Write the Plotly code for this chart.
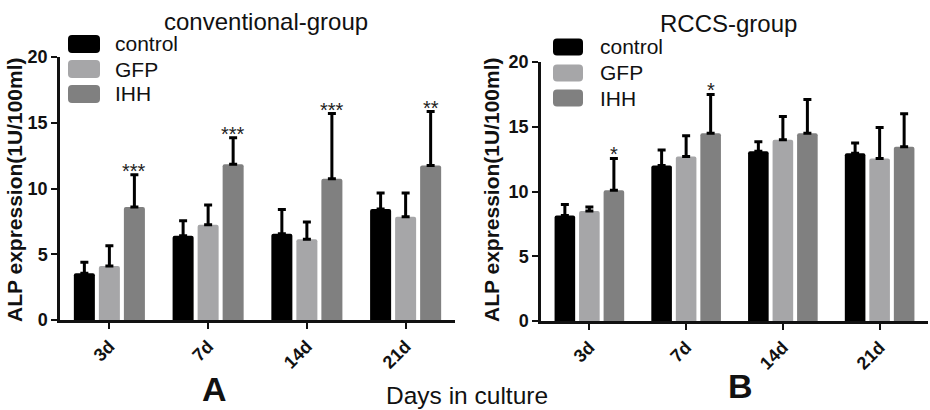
import plotly.graph_objects as go

days = ["3d", "7d", "14d", "21d"]
series_names = ["control", "GFP", "IHH"]
colors = ["#000000", "#a6a6a8", "#808080"]

# conventional-group (A)
conv_control = [3.55, 6.4, 6.55, 8.45]
conv_control_sd = [0.85, 1.15, 1.85, 1.2]
conv_gfp = [4.1, 7.25, 6.15, 7.85]
conv_gfp_sd = [1.55, 1.5, 1.3, 1.8]
conv_ihh = [8.6, 11.85, 10.75, 11.75]
conv_ihh_sd = [2.45, 2.0, 4.95, 4.1]
conv_stars = ["***", "***", "***", "**"]

# RCCS-group (B)
rccs_control = [8.15, 12.0, 13.1, 12.95]
rccs_control_sd = [0.85, 1.2, 0.75, 0.8]
rccs_gfp = [8.5, 12.7, 14.0, 12.55]
rccs_gfp_sd = [0.3, 1.6, 1.8, 2.4]
rccs_ihh = [10.1, 14.5, 14.5, 13.45]
rccs_ihh_sd = [2.45, 3.0, 2.6, 2.55]
rccs_stars = ["*", "*", "", ""]

y_ticks = [0, 5, 10, 15, 20]

W, H = 930, 410
BARGAP = 0.24
GROUPGAP = 0.16
FONT = "Liberation Sans, Arial, sans-serif"
TXT = "#111111"


def px(x):
    return x / W


def py(y):
    return 1 - y / H


fig = go.Figure()

panels = [
    ("x", "y", [conv_control, conv_gfp, conv_ihh],
     [conv_control_sd, conv_gfp_sd, conv_ihh_sd], conv_stars),
    ("x2", "y2", [rccs_control, rccs_gfp, rccs_ihh],
     [rccs_control_sd, rccs_gfp_sd, rccs_ihh_sd], rccs_stars),
]

annotations = []
for xa, ya, vals, sds, stars in panels:
    for name, col, v, sd in zip(series_names, colors, vals, sds):
        fig.add_trace(go.Bar(
            x=days, y=v, name=name, xaxis=xa, yaxis=ya,
            marker=dict(color=col, line=dict(width=0), cornerradius=2),
            error_y=dict(type="data", array=sd, arrayminus=[0] * len(sd),
                         symmetric=False, color="#000000", thickness=3, width=4),
            showlegend=False,
        ))
    slot = (1 - BARGAP) / 3
    for i, s in enumerate(stars):
        if s:
            annotations.append(dict(
                x=i + slot, y=vals[2][i] + sds[2][i], xref=xa, yref=ya,
                text=s, showarrow=False, xanchor="center", yanchor="bottom", yshift=-9,
                font=dict(family=FONT, size=20, color="#222222"),
            ))

# legend blocks drawn as rounded swatches + labels (one per panel)
shapes = []


def rounded_rect(x0, y0, x1, y1, r=4):
    X0, X1 = px(x0), px(x1)
    Y0, Y1 = py(y0), py(y1)
    rx, ry = r / W, r / H
    return (f"M{X0 + rx},{Y0} L{X1 - rx},{Y0} Q{X1},{Y0} {X1},{Y0 - ry} "
            f"L{X1},{Y1 + ry} Q{X1},{Y1} {X1 - rx},{Y1} L{X0 + rx},{Y1} "
            f"Q{X0},{Y1} {X0},{Y1 + ry} L{X0},{Y0 - ry} Q{X0},{Y0} {X0 + rx},{Y0} Z")


legend_specs = [
    (68, 100, 113, [44, 69, 94], 18),
    (553, 583, 598, [47, 73, 98], 17),
]
for sx0, sx1, tx, centers, hgt in legend_specs:
    for name, col, cy in zip(series_names, colors, centers):
        shapes.append(dict(type="path", xref="paper", yref="paper",
                           path=rounded_rect(sx0, cy - hgt / 2, sx1, cy + hgt / 2),
                           fillcolor=col, line=dict(width=0)))
        annotations.append(dict(x=px(tx), y=py(cy), xref="paper", yref="paper",
                                text=name, showarrow=False, xanchor="left", yanchor="middle",
                                font=dict(family=FONT, size=21, color=TXT)))

axis_common = dict(
    showline=True, linecolor=TXT, linewidth=2.5, showgrid=False, automargin=False,
    zeroline=False, ticks="outside", ticklen=6, tickwidth=2, tickcolor=TXT,
)
tickfont = dict(family=FONT, size=18, color=TXT, weight="bold")

fig.update_layout(
    width=W, height=H,
    margin=dict(l=0, r=0, t=0, b=0, autoexpand=False),
    paper_bgcolor="white", plot_bgcolor="white",
    barmode="group", bargap=BARGAP, bargroupgap=GROUPGAP,
    font=dict(family=FONT, color=TXT),
    showlegend=False,
    xaxis=dict(domain=[px(60), px(455)], anchor="y", range=[-0.5, 3.5],
               tickangle=-45, tickfont=tickfont, **axis_common),
    yaxis=dict(domain=[py(320), py(57)], anchor="x", range=[0, 20], tickvals=y_ticks,
               tickfont=tickfont, **axis_common),
    xaxis2=dict(domain=[px(541), px(928)], anchor="y2", range=[-0.5, 3.5],
                tickangle=-45, tickfont=tickfont, **axis_common),
    yaxis2=dict(domain=[py(321), py(62)], anchor="x2", range=[0, 20], tickvals=y_ticks,
                tickfont=tickfont, **axis_common),
)

annotations += [
    dict(x=px(266), y=py(21), xref="paper", yref="paper", text="conventional-group",
         showarrow=False, xanchor="center", yanchor="middle",
         font=dict(family=FONT, size=24, color=TXT)),
    dict(x=px(728), y=py(23), xref="paper", yref="paper", text="RCCS-group",
         showarrow=False, xanchor="center", yanchor="middle",
         font=dict(family=FONT, size=24, color=TXT)),
    dict(x=px(14), y=py(190), xref="paper", yref="paper", text="<b>ALP expression(1U/100ml)</b>",
         textangle=-90, showarrow=False, xanchor="center", yanchor="middle",
         font=dict(family=FONT, size=21, color=TXT)),
    dict(x=px(491), y=py(190), xref="paper", yref="paper", text="<b>ALP expression(1U/100ml)</b>",
         textangle=-90, showarrow=False, xanchor="center", yanchor="middle",
         font=dict(family=FONT, size=21, color=TXT)),
    dict(x=px(214), y=py(389), xref="paper", yref="paper", text="<b>A</b>",
         showarrow=False, xanchor="center", yanchor="middle",
         font=dict(family=FONT, size=34, color=TXT)),
    dict(x=px(740), y=py(386), xref="paper", yref="paper", text="<b>B</b>",
         showarrow=False, xanchor="center", yanchor="middle",
         font=dict(family=FONT, size=34, color=TXT)),
    dict(x=px(467), y=py(395), xref="paper", yref="paper", text="Days in culture",
         showarrow=False, xanchor="center", yanchor="middle",
         font=dict(family=FONT, size=24.5, color=TXT)),
]
fig.update_layout(annotations=annotations, shapes=shapes)

fig.write_html("out.html")
